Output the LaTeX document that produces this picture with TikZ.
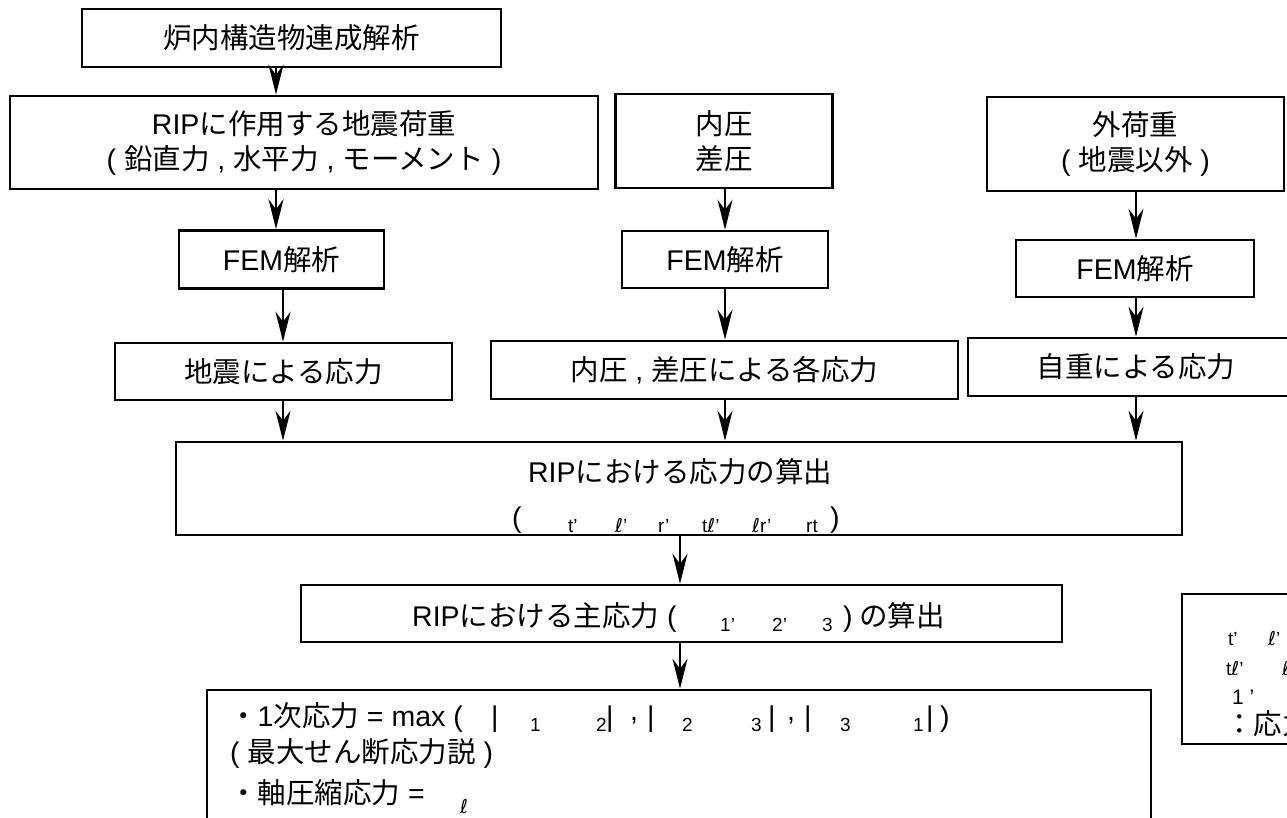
\documentclass[tikz,border=0pt]{standalone}
\usepackage{fontspec}
\setmainfont{Liberation Sans}
\newfontfamily\jp{Noto Sans CJK JP}
\newfontfamily\lat{Liberation Sans}
\newfontfamily\dv{DejaVu Sans}
\usetikzlibrary{arrows.meta}
\newcommand\cj{\jp\fontsize{28.5}{35}\selectfont}
\newcommand\la[1]{{\lat #1}}
\newcommand\sg[2]{\makebox[#1pt][l]{#2}}
\newcommand\sbs[1]{\raisebox{-5pt}{\lat\fontsize{19}{19}\selectfont #1}}
\newcommand\scl{{\dv ℓ}}
\begin{document}
\begin{tikzpicture}[x=1pt,y=-1pt,
  bx/.style={draw, line width=2.6pt, inner sep=0pt, align=center, font=\cj},
  tx/.style={inner sep=0pt, font=\cj},
  ar/.style={line width=2pt, -{Stealth[length=30pt,width=15pt,inset=10pt]}}]
\clip (0,0) rectangle (1287,818);
\useasboundingbox (0,0) rectangle (1287,818);
\fill[white] (0,0) rectangle (1287,818);
% boxes
\node[bx, minimum width=419pt, minimum height=58pt] (b1) at (291.5,38) {炉内構造物連成解析};
\node[bx, minimum width=588pt, minimum height=93pt] (b2) at (304,142.5) {\la{RIP}に作用する地震荷重\\\la{( }鉛直力\la{ , }水平力\la{ , }モーメント\la{ )}};
\node[bx, minimum width=217pt, minimum height=94pt] (b3) at (724,141) {内圧\\差圧};
\node[bx, minimum width=297pt, minimum height=94pt] (b4) at (1135.5,144) {外荷重\\\la{( }地震以外\la{ )}};
\node[bx, minimum width=205pt, minimum height=58pt] (f1) at (281.5,259.5) {\la{FEM}解析};
\node[bx, minimum width=206pt, minimum height=57pt] (f2) at (725,259.5) {\la{FEM}解析};
\node[bx, minimum width=238pt, minimum height=57pt] (f3) at (1135,268.5) {\la{FEM}解析};
\node[bx, minimum width=337pt, minimum height=57pt] (s1) at (283.5,371.5) {地震による応力};
\node[bx, minimum width=467pt, minimum height=58pt] (s2) at (724.5,370) {内圧\la{ , }差圧による各応力};
\node[bx, minimum width=336pt, minimum height=58pt] (s3) at (1136,367) {自重による応力};
\node[bx, minimum width=1006pt, minimum height=93pt] (rip) at (679,488.5) {};
\node[bx, minimum width=761pt, minimum height=57pt] (ps) at (681.5,613.5) {};
\node[bx, minimum width=944pt, minimum height=150pt] (bot) at (679,765) {};
\node[bx, minimum width=136pt, minimum height=150pt] (rb) at (1250,669) {};
% texts
\node[tx, anchor=base] (r1) at (680,482) {\la{RIP}における応力の算出};
\node[tx, anchor=base west] (r2) at (512,527) {\sg{56}{\la{(}}\sg{47}{\sbs{t’}}\sg{43}{\sbs{\scl’}}\sg{44}{\sbs{r’}}\sg{50}{\sbs{t\scl’}}\sg{54}{\sbs{\scl r’}}\sg{24}{\sbs{rt}}\la{)}};
\node[tx, anchor=base west] (p1) at (412,626) {\sg{308}{\la{RIP}における主応力\la{ (}}\sg{52}{\sbs{1’}}\sg{50}{\sbs{2’}}\sg{21}{\sbs{3}}\la{)} の算出};
\node[tx, anchor=base west] (q1) at (229,726) {\sg{262}{・\la{1}次応力\la{ = max (}}\sg{39}{\la{|}}\sg{66}{\sbs{1}}\sg{10}{\sbs{2}}\sg{24}{\la{|}}\sg{17}{\raisebox{6pt}{\la{,}}}\sg{35}{\la{|}}\sg{69}{\sbs{2}}\sg{17}{\sbs{3}}\sg{19}{\la{|}}\sg{17}{\raisebox{6pt}{\la{,}}}\sg{36}{\la{|}}\sg{73}{\sbs{3}}\sg{13}{\sbs{1}}\sg{14}{\la{|}}\la{)}};
\node[tx, anchor=base west] (q2) at (230,762) {\la{( }最大せん断応力説\la{ )}};
\node[tx, anchor=base west] (q3) at (229,803) {・軸圧縮応力\la{ =}};
\node[tx, anchor=base west] (q4) at (460,808) {\sbs{\scl}};
\node[tx, anchor=base west] (k1) at (1228,640) {\sg{40}{\sbs{t’}}\sbs{\scl’}};
\node[tx, anchor=base west] (k2) at (1226,670) {\sg{56}{\sbs{t\scl’}}\sbs{\scl}};
\node[tx, anchor=base west] (k3) at (1232,704) {\lat\fontsize{21}{21}\selectfont 1 ’};
\node[tx, anchor=base west] (k4) at (1225,734) {：応力};
% arrows
\coordinate (c0) at (276,0);
\coordinate (c1) at (283,0);
\coordinate (c2) at (725,0);
\coordinate (c3) at (1136,0);
\coordinate (c4) at (680,0);
\draw[ar] (c0 |- b1.south) -- (c0 |- b2.north);
\draw[ar] (c0 |- b2.south) -- (c0 |- f1.north);
\draw[ar] (c1 |- f1.south) -- (c1 |- s1.north);
\draw[ar] (c1 |- s1.south) -- (c1 |- rip.north);
\draw[ar] (c2 |- b3.south) -- (c2 |- f2.north);
\draw[ar] (c2 |- f2.south) -- (c2 |- s2.north);
\draw[ar] (c2 |- s2.south) -- (c2 |- rip.north);
\draw[ar] (c3 |- b4.south) -- (c3 |- f3.north);
\draw[ar] (c3 |- f3.south) -- (c3 |- s3.north);
\draw[ar] (c3 |- s3.south) -- (c3 |- rip.north);
\draw[ar] (c4 |- rip.south) -- (c4 |- ps.north);
\draw[ar] (c4 |- ps.south) -- (c4 |- bot.north);
\end{tikzpicture}
\end{document}
